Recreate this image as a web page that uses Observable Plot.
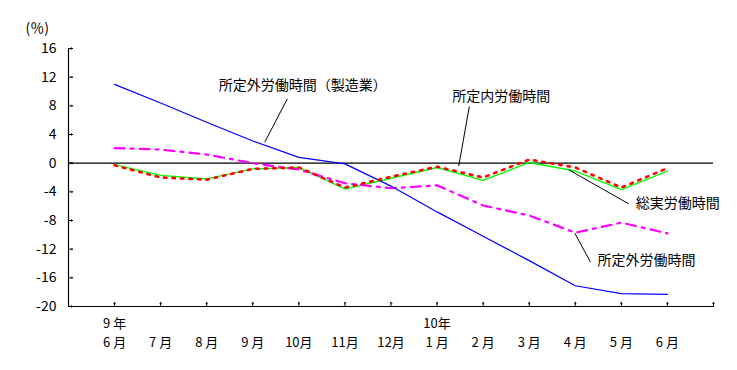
<!DOCTYPE html>
<html>
<head>
<meta charset="utf-8">
<script src="https://cdn.jsdelivr.net/npm/d3@7"></script>
<script src="https://cdn.jsdelivr.net/npm/@observablehq/plot@0.6"></script>
<style>
  html, body { margin: 0; padding: 0; background: #ffffff; }
  #chart svg { display: block; }
</style>
</head>
<body>
<div id="chart"></div>
<script>
// Category labels (x axis)
const months = ["6 月", "7 月", "8 月", "9 月", "10月", "11月", "12月", "1 月", "2 月", "3 月", "4 月", "5 月", "6 月"];
const years  = ["9 年", "", "", "", "", "", "", "10年", "", "", "", "", ""];
// Y tick values
const yTicks = [16, 12, 8, 4, 0, -4, -8, -12, -16, -20];

// Series (%)
const totalHours     = [-0.3, -2.0, -2.3, -0.8, -0.6, -3.4, -1.9, -0.5, -2.0, 0.5, -0.6, -3.4, -0.7];   // 総実労働時間
const scheduledHours = [-0.2, -1.7, -2.2, -0.8, -0.6, -3.6, -2.1, -0.6, -2.4, 0.1, -1.1, -3.7, -1.1];   // 所定内労働時間
const overtimeHours  = [2.1, 1.9, 1.2, 0.0, -0.9, -2.8, -3.5, -3.1, -5.9, -7.3, -9.7, -8.3, -9.8];      // 所定外労働時間
const overtimeMfg    = [11.0, 8.4, 5.7, 3.1, 0.8, -0.1, -3.2, -6.8, -10.2, -13.6, -17.1, -18.2, -18.3]; // 所定外労働時間（製造業）

// Annotation labels and leader lines, anchored in data coordinates (category index, %)
const annotations = [
  {label: "所定外労働時間（製造業）", x: 2.26, y: 10.85, x1: 3.75, y1: 8.98, x2: 3.26, y2: 2.93},
  {label: "所定内労働時間",           x: 7.33, y: 9.25,  x1: 7.70, y1: 7.91, x2: 7.47, y2: -0.42},
  {label: "総実労働時間",             x: 11.31, y: -5.67, x1: 11.16, y1: -5.67, x2: 9.86, y2: -0.93},
  {label: "所定外労働時間",           x: 10.48, y: -13.58, x1: 10.33, y1: -13.82, x2: 9.99, y2: -9.77}
];

const toRows = (vals) => vals.map((v, i) => ({i, v}));
const idx = d3.range(months.length);
const xTickIdx = d3.range(months.length + 1);
const first = -1, last = months.length;

const font = "'Noto Sans CJK JP', 'Noto Sans', sans-serif";

const chart = Plot.plot({
  width: 737,
  height: 370,
  marginLeft: 68,
  marginRight: 24,
  marginTop: 48,
  marginBottom: 64,
  style: {fontFamily: font, fontSize: "14px", background: "#ffffff", color: "#000"},
  x: {type: "linear", domain: [first, last], axis: null},
  y: {type: "linear", domain: [-20, 16], axis: null},
  marks: [
    // axes
    Plot.ruleX([first], {y1: -20, y2: 16, stroke: "#000", strokeWidth: 1.2}),
    Plot.ruleY([-20], {x1: first, x2: last, stroke: "#000", strokeWidth: 1.2}),
    Plot.ruleY([0], {x1: first, x2: last, stroke: "#000", strokeWidth: 1.2}),
    Plot.vector(yTicks, {x: first, y: d => d, length: 4, rotate: 90, anchor: "start", stroke: "#000", strokeWidth: 1}),
    Plot.vector(xTickIdx, {x: d => d, y: -20, length: 4, rotate: 0, anchor: "start", stroke: "#000", strokeWidth: 1}),
    Plot.text(yTicks, {x: first, y: d => d, text: d => d3.format("d")(d).replace("−", "-"), textAnchor: "end", dx: -12, fontSize: 14, fill: "#000"}),
    Plot.text(idx, {x: d => d, y: -20, text: d => months[d], dy: 36.5, fontSize: 13, fill: "#000"}),
    Plot.text(idx, {x: d => d, y: -20, text: d => years[d], dy: 17.5, fontSize: 13, fill: "#000"}),
    Plot.text(["(％)"], {frameAnchor: "top-left", dx: -43, dy: -25, textAnchor: "start", fontSize: 14, fill: "#000"}),

    // series
    Plot.line(toRows(scheduledHours), {x: "i", y: "v", stroke: "#00ff00", strokeWidth: 1.4}),
    Plot.line(toRows(overtimeHours), {x: "i", y: "v", stroke: "#ff00ff", strokeWidth: 2.2, strokeDasharray: "10,6,3,6"}),
    Plot.line(toRows(overtimeMfg), {x: "i", y: "v", stroke: "#0000ff", strokeWidth: 1.2}),
    Plot.line(toRows(totalHours), {x: "i", y: "v", stroke: "#ff0000", strokeWidth: 2.6, strokeDasharray: "2.5,6"}),

    // annotations
    Plot.link(annotations, {x1: "x1", y1: "y1", x2: "x2", y2: "y2", stroke: "#000", strokeWidth: 1}),
    Plot.text(annotations, {x: "x", y: "y", text: "label", textAnchor: "start", fontSize: 14, fill: "#000"})
  ]
});

document.getElementById("chart").appendChild(chart);
</script>
</body>
</html>
